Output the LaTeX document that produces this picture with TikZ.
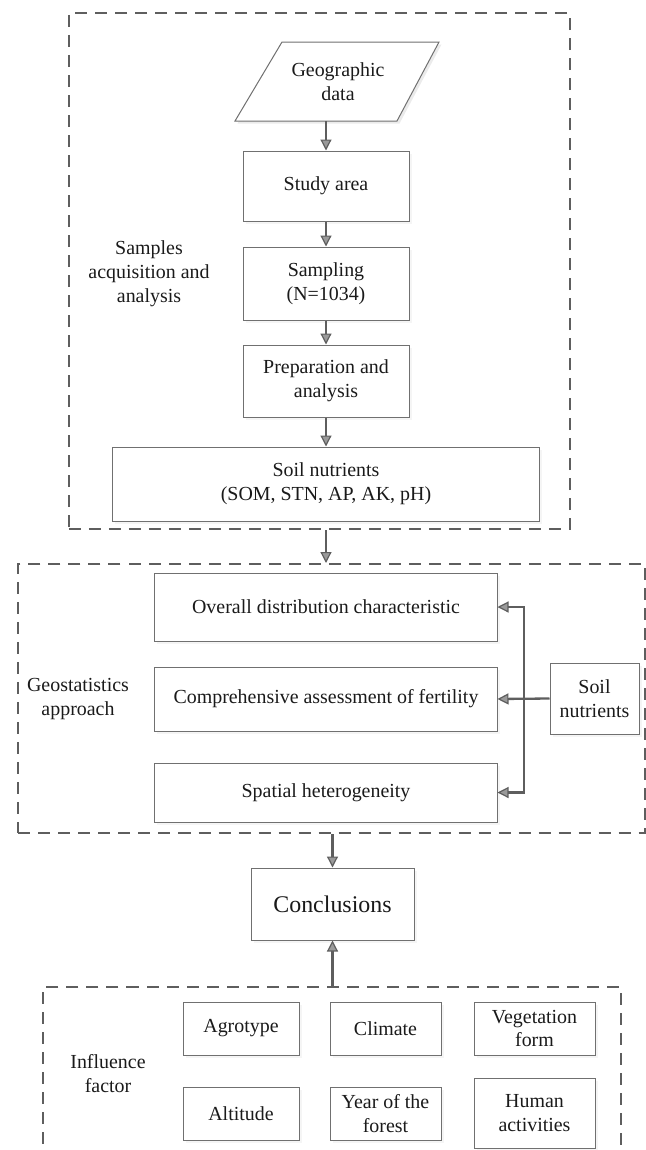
\documentclass[tikz,border=0pt]{standalone}
\usepackage{fontspec}
\setmainfont{Liberation Serif}
\newfontfamily\tnr{Liberation Serif}
\usetikzlibrary{arrows.meta,shadows}
\definecolor{boxgray}{HTML}{707070}
\definecolor{arrgray}{HTML}{5E5E5E}
\definecolor{headfill}{HTML}{9A9A9A}
\definecolor{textblack}{HTML}{1A1A1A}
\definecolor{shadowgray}{HTML}{EBEBEB}
\tikzset{
  txt/.style={align=center, inner sep=0pt, text=textblack, font=\tnr\fontsize{20}{24}\selectfont},
  box/.style={txt, draw=boxgray, line width=1bp, fill=white,
    drop shadow={shadow xshift=2.5bp, shadow yshift=-2.5bp, fill=shadowgray}},
  dashbox/.style={draw=arrgray, line width=2bp, dash pattern=on 12bp off 8bp, inner sep=0pt},
  arr/.style={draw=arrgray, line width=2.3bp,
    -{Triangle[length=11bp, width=11bp, fill=headfill, line width=1.2bp]}},
}
\begin{document}
\begin{tikzpicture}[x=1bp,y=-1bp]
\useasboundingbox (0,0) rectangle (646,1150);
\clip (0,0) rectangle (646,1150);

% dashed frames
\node[dashbox, minimum width=501bp, minimum height=516bp] (frameA) at (319.5,271) {};
\node[dashbox, minimum width=626.5bp, minimum height=269bp] (frameB) at (331.75,698.5) {};
\node[dashbox, minimum width=577.5bp, minimum height=200bp] (frameC) at (332.25,1087) {};

% top section
\fill[shadowgray] (284.5,44.5) -- (441.5,44.5) -- (399.5,123.5) -- (237.5,123.5) -- cycle;
\fill[white] (282,42) -- (439,42) -- (397,121) -- (235,121) -- cycle;
\draw[boxgray, line width=1bp, line join=miter] (282,42) -- (439,42) -- (397,121) -- (235,121) -- cycle;
\node[txt, minimum height=79bp] (geo) at (338,81.5) {Geographic\\data};

\node[box, minimum width=166bp, minimum height=70bp] (study) at (326,186) {Study area};
\node[box, minimum width=166bp, minimum height=73bp] (sampling) at (326,283.5) {Sampling\\(N=1034)};
\node[box, minimum width=166bp, minimum height=72bp] (prep) at (326,381) {Preparation and\\analysis};
\node[box, minimum width=426bp, minimum height=74bp] (soilA) at (326,484) {Soil nutrients\\(SOM, STN, AP, AK, pH)};
\node[txt] (lblA) at (149,274) {Samples\\acquisition and\\analysis};

\draw[arr] (geo.south -| study.north) -- (study.north);
\draw[arr] (study.south) -- (sampling.north);
\draw[arr] (sampling.south) -- (prep.north);
\draw[arr] (prep.south) -- (soilA.north);
\draw[arr] (frameA.south -| soilA.south) -- (frameB.north -| soilA.south);

% middle section
\node[box, minimum width=342bp, minimum height=68bp] (overall) at (326,607) {Overall distribution characteristic};
\node[box, minimum width=342bp, minimum height=64bp] (comp) at (326,699) {Comprehensive assessment of fertility};
\node[box, minimum width=342bp, minimum height=59bp] (spatial) at (326,792.5) {Spatial heterogeneity};
\node[box, minimum width=89bp, minimum height=71bp] (soilB) at (594.5,698.5) {Soil\\nutrients};
\node[txt] (lblB) at (78,699) {Geostatistics\\approach};
\coordinate (jn) at (524,698.5);
\draw[arr] (soilB.west) -- (comp.east);
\draw[arr] (jn) |- (overall.east);
\draw[arr] (jn) |- (spatial.east);

% conclusions
\node[box, font=\tnr\fontsize{24}{28}\selectfont, minimum width=163bp, minimum height=72bp] (concl) at (332.5,904) {Conclusions};
\draw[arr] (frameB.south -| concl.north) -- (concl.north);
\draw[arr] (frameC.north -| concl.south) -- (concl.south);

% influence factors
\node[txt] (lblC) at (108,1074) {Influence\\factor};
\node[box, minimum width=116bp, minimum height=53bp] (agro) at (241,1028.5) {Agrotype};
\node[box, minimum width=111bp, minimum height=53bp] (climate) at (385.5,1028.5) {Climate};
\node[box, minimum width=121bp, minimum height=53bp] (veg) at (534.5,1028.5) {Vegetation\\form};
\node[box, minimum width=116bp, minimum height=53bp] (alt) at (241,1113.5) {Altitude};
\node[box, minimum width=111bp, minimum height=53bp] (year) at (385.5,1113.5) {Year of the\\forest};
\node[box, minimum width=121bp, minimum height=70bp] (human) at (534.5,1113) {Human\\activities};
\end{tikzpicture}
\end{document}
